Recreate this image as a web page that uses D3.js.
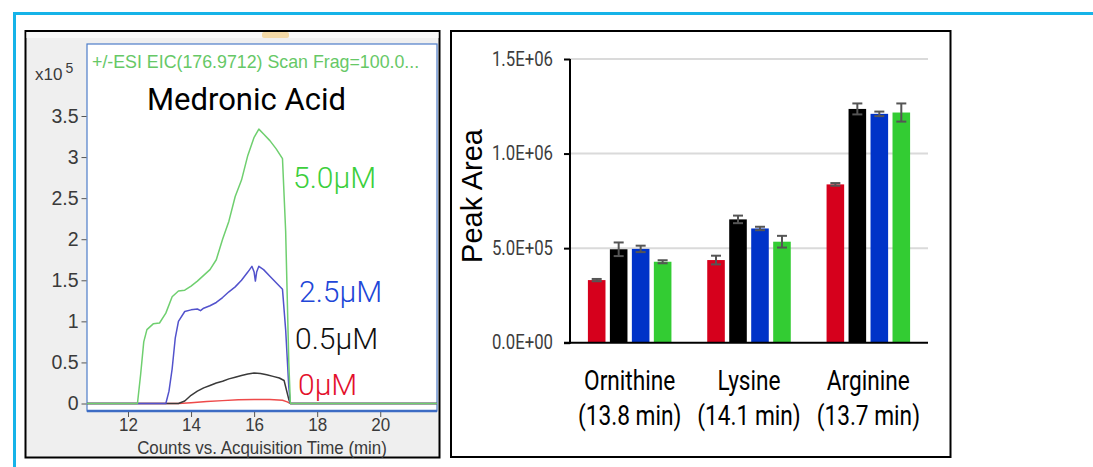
<!DOCTYPE html>
<html>
<head>
<meta charset="utf-8">
<script src="https://cdn.jsdelivr.net/npm/d3@7"></script>
<style>
  html, body { margin: 0; padding: 0; background: #ffffff; }
  svg { display: block; }
</style>
</head>
<body>
<svg id="fig" width="1093" height="467"></svg>
<script>
// ---------- Panel A: medronic acid extracted-ion chromatograms (counts x10^5 vs min) ----------
const traceLabels = ["0μM", "0.5μM", "2.5μM", "5.0μM"];
const traceColors = ["#ee4a4a", "#3a3a3a", "#5252cc", "#6fcf6f"];
const labelColors = ["#e3102c", "#111111", "#2146d8", "#3ccf3c"];

const trace0uM = [[10.7,0],[13.6,0],[14.0,0.01],[14.5,0.025],[15.0,0.035],[15.5,0.045],[16.0,0.05],[16.5,0.048],[16.9,0.04],[17.05,0.02],[17.15,0],[21.8,0]];
const trace05uM = [[10.7,0],[13.6,0],[13.8,0.03],[14.0,0.1],[14.2,0.15],[14.4,0.19],[14.6,0.22],[14.8,0.25],[15.0,0.27],[15.2,0.3],[15.4,0.32],[15.6,0.34],[15.8,0.36],[16.0,0.37],[16.2,0.365],[16.4,0.35],[16.6,0.33],[16.8,0.31],[16.95,0.28],[17.1,0.05],[17.15,0],[21.8,0]];
const trace25uM = [[10.7,0],[13.2,0],[13.3,0.15],[13.4,0.42],[13.5,0.8],[13.6,1.0],[13.8,1.12],[14.0,1.14],[14.2,1.15],[14.3,1.13],[14.4,1.16],[14.6,1.19],[14.8,1.23],[15.0,1.29],[15.2,1.36],[15.4,1.42],[15.6,1.5],[15.8,1.6],[15.93,1.67],[16.0,1.6],[16.04,1.49],[16.08,1.6],[16.15,1.67],[16.3,1.63],[16.5,1.55],[16.7,1.47],[16.9,1.39],[17.0,0.9],[17.1,0.2],[17.15,0],[21.8,0]];
const trace50uM = [[10.7,0],[12.3,0],[12.4,0.35],[12.5,0.75],[12.6,0.9],[12.8,0.97],[13.0,0.98],[13.2,1.1],[13.4,1.3],[13.6,1.37],[13.8,1.38],[14.0,1.43],[14.2,1.49],[14.4,1.56],[14.6,1.63],[14.8,1.75],[15.0,2.0],[15.2,2.22],[15.4,2.52],[15.6,2.72],[15.8,3.02],[16.0,3.24],[16.15,3.34],[16.3,3.28],[16.5,3.2],[16.7,3.1],[16.9,2.98],[17.0,2.1],[17.1,0.5],[17.15,0],[21.8,0]];
const traces = [trace0uM, trace05uM, trace25uM, trace50uM];

const timeTicks = [12, 14, 16, 18, 20];
const countTicks = [0, 0.5, 1, 1.5, 2, 2.5, 3, 3.5];

// ---------- Panel B: peak areas by amino acid and medronic acid level ----------
const aminoAcids = ["Ornithine", "Lysine", "Arginine"];
const retentionTimes = ["(13.8 min)", "(14.1 min)", "(13.7 min)"];
const levels = ["0μM", "0.5μM", "2.5μM", "5.0μM"];
const barColors = ["#d6001c", "#000000", "#0033c8", "#33cc33"];
const areaOrnithine = [331000, 494000, 496000, 428000];
const areaLysine = [437000, 652000, 604000, 534000];
const areaArginine = [837000, 1236000, 1210000, 1217000];
const errOrnithine = [6000, 36000, 17000, 8000];
const errLysine = [23000, 20000, 9000, 31000];
const errArginine = [7000, 29000, 12000, 48000];
const areaTicks = [0, 500000, 1000000, 1500000];

const areas = [areaOrnithine, areaLysine, areaArginine];
const errs = [errOrnithine, errLysine, errArginine];

const svg = d3.select("#fig");

// outer cyan frame
svg.append("path")
  .attr("d", "M14.5,467 V13.5 H1093")
  .attr("fill", "none").attr("stroke", "#16b3e8").attr("stroke-width", 3);

// ===== Panel A =====
const A = svg.append("g");
A.append("rect").attr("x", 25.5).attr("y", 31).attr("width", 414).attr("height", 426.5)
  .attr("fill", "#efefef").attr("stroke", "#000").attr("stroke-width", 2);
A.append("rect").attr("x", 26.5).attr("y", 32).attr("width", 412).attr("height", 6).attr("fill", "#f8f8f8");
A.append("rect").attr("x", 262).attr("y", 32).attr("width", 27).attr("height", 6).attr("rx", 2).attr("fill", "#f3d9a6");

const plotL = 87, plotR = 437, plotT = 44, plotB = 411;
A.append("rect").attr("x", plotL).attr("y", plotT).attr("width", plotR - plotL).attr("height", plotB - plotT)
  .attr("fill", "#ffffff").attr("stroke", "#4d7cc9").attr("stroke-width", 1.2);

const xT = d3.scaleLinear().domain([10.7, 21.8]).range([plotL, plotR]);
const yC = d3.scaleLinear().domain([0, 3.5]).range([403.5, 116]);

// y axis
const yAxA = A.append("g").attr("transform", `translate(${plotL - 0.5},0)`)
  .call(d3.axisLeft(yC).tickValues(countTicks).tickSize(5).tickPadding(3).tickFormat(d => d3.format("~g")(d)));
yAxA.select(".domain").remove();
yAxA.selectAll(".tick line").attr("stroke", "#555");
yAxA.selectAll(".tick text").attr("fill", "#3a3a3a").style("font-family", "'Liberation Sans', Arial, sans-serif").style("font-size", "19.5px");

// x axis
A.append("line").attr("x1", plotL).attr("x2", plotR).attr("y1", plotB).attr("y2", plotB)
  .attr("stroke", "#3d6cc4").attr("stroke-width", 2.5);
const xAxA = A.append("g").attr("transform", `translate(0,${plotB + 1})`)
  .call(d3.axisBottom(xT).tickValues(timeTicks).tickSize(5).tickPadding(1).tickFormat(d3.format("d")));
xAxA.select(".domain").remove();
xAxA.selectAll(".tick line").attr("stroke", "#555");
xAxA.selectAll(".tick text").attr("fill", "#3a3a3a").style("font-family", "'Liberation Sans', Arial, sans-serif").style("font-size", "18.5px")
  .attr("transform", "scale(0.92,1)");

A.append("text").attr("transform", "translate(262,453.5) scale(0.89,1)")
  .attr("text-anchor", "middle").attr("fill", "#3a3a3a")
  .style("font-family", "'Liberation Sans', Arial, sans-serif").style("font-size", "19px")
  .text("Counts vs. Acquisition Time (min)");

const mult = A.append("text").attr("x", 35).attr("y", 80).attr("fill", "#3a3a3a")
  .style("font-family", "'Liberation Sans', Arial, sans-serif").style("font-size", "17px");
mult.append("tspan").text("x10");
mult.append("tspan").attr("dx", 3).attr("dy", -7).style("font-size", "14px").text("5");

A.append("text").attr("x", 92).attr("y", 68).attr("fill", "#66c866")
  .style("font-family", "'Liberation Sans', Arial, sans-serif").style("font-size", "17.8px")
  .text("+/-ESI EIC(176.9712) Scan Frag=100.0...");

A.append("text").attr("x", 147).attr("y", 110).attr("fill", "#000")
  .style("font-family", "Roboto, sans-serif").style("font-size", "31px")
  .text("Medronic Acid");

const line = d3.line().x(d => xT(d[0])).y(d => yC(d[1]));
traces.forEach((tr, i) => {
  A.append("path").datum(tr).attr("d", line).attr("fill", "none")
    .attr("stroke", traceColors[i]).attr("stroke-width", 1.5).attr("stroke-linejoin", "round");
});

const labelPos = [[298, 395], [295, 349], [299, 302], [293, 188]];
traceLabels.forEach((t, i) => {
  A.append("text").attr("x", labelPos[i][0]).attr("y", labelPos[i][1]).attr("fill", labelColors[i])
    .style("font-family", "Roboto, sans-serif").style("font-weight", 300).style("font-size", "30px")
    .text(t);
});

// ===== Panel B =====
const B = svg.append("g");
B.append("rect").attr("x", 451).attr("y", 31).attr("width", 499.5).attr("height", 426)
  .attr("fill", "#ffffff").attr("stroke", "#000").attr("stroke-width", 2);

const axL = 570, axR = 928;
const yA = d3.scaleLinear().domain([0, 1500000]).range([342.7, 59]);
const x0 = d3.scaleBand().domain(aminoAcids).range([axL, axR]).paddingInner(0.3).paddingOuter(0.15);
const x1 = d3.scaleBand().domain(levels).range([0, x0.bandwidth()]).paddingInner(0.2).paddingOuter(0);

// gridlines
B.selectAll(".grid").data(areaTicks.filter(d => d > 0)).join("line")
  .attr("x1", axL).attr("x2", axR).attr("y1", d => yA(d)).attr("y2", d => yA(d))
  .attr("stroke", "#dadada").attr("stroke-width", 2);

function sciLabel(v) {
  const [m, e] = d3.format(".1e")(v).split("e");
  const ex = +e;
  return m + "E" + (ex < 0 ? "-" : "+") + String(Math.abs(ex)).padStart(2, "0");
}

const yAxB = B.append("g").attr("transform", `translate(${axL},0)`)
  .call(d3.axisLeft(yA).tickValues(areaTicks).tickSize(6).tickFormat(sciLabel));
yAxB.select(".domain").remove();
yAxB.selectAll(".tick line").attr("stroke", "#000").attr("stroke-width", 2);
yAxB.selectAll(".tick text").attr("x", -17 / 0.86).attr("transform", "scale(0.86,1)")
  .attr("fill", "#3d3d3d").style("font-family", "Roboto, sans-serif").style("font-size", "19.5px");
B.append("line").attr("x1", axL).attr("x2", axL).attr("y1", yA(1500000)).attr("y2", yA(0) + 1)
  .attr("stroke", "#000").attr("stroke-width", 2);

// bars
const groups = B.selectAll(".grp").data(aminoAcids).join("g")
  .attr("transform", d => `translate(${x0(d)},0)`);
groups.each(function(aa, gi) {
  const g = d3.select(this);
  levels.forEach((lv, si) => {
    const v = areas[gi][si], e = errs[gi][si];
    const bx = x1(lv), bw = x1.bandwidth(), cx = bx + bw / 2;
    g.append("rect").attr("x", bx).attr("y", yA(v)).attr("width", bw).attr("height", yA(0) - yA(v))
      .attr("fill", barColors[si]);
    const ew = g.append("g").attr("stroke", "#555").attr("stroke-width", 2);
    ew.append("line").attr("x1", cx).attr("x2", cx).attr("y1", yA(v + e)).attr("y2", yA(v - e));
    ew.append("line").attr("x1", cx - 5).attr("x2", cx + 5).attr("y1", yA(v + e)).attr("y2", yA(v + e));
    ew.append("line").attr("x1", cx - 5).attr("x2", cx + 5).attr("y1", yA(v - e)).attr("y2", yA(v - e));
  });
});

B.append("line").attr("x1", axL - 6).attr("x2", axR).attr("y1", yA(0)).attr("y2", yA(0))
  .attr("stroke", "#000").attr("stroke-width", 2);

// category labels
aminoAcids.forEach((aa, i) => {
  const cx = x0(aa) + x0.bandwidth() / 2;
  [aa, retentionTimes[i]].forEach((t, k) => {
    B.append("text").attr("transform", `translate(${cx},${k === 0 ? 390 : 425}) scale(0.84,1)`)
      .attr("text-anchor", "middle").attr("fill", "#000")
      .style("font-family", "Roboto, sans-serif").style("font-size", "27px")
      .text(t);
  });
});

B.append("text").attr("transform", "translate(482,196) rotate(-90)")
  .attr("text-anchor", "middle").attr("fill", "#000")
  .style("font-family", "'Liberation Sans', Arial, sans-serif").style("font-size", "29px")
  .text("Peak Area");
</script>
</body>
</html>
